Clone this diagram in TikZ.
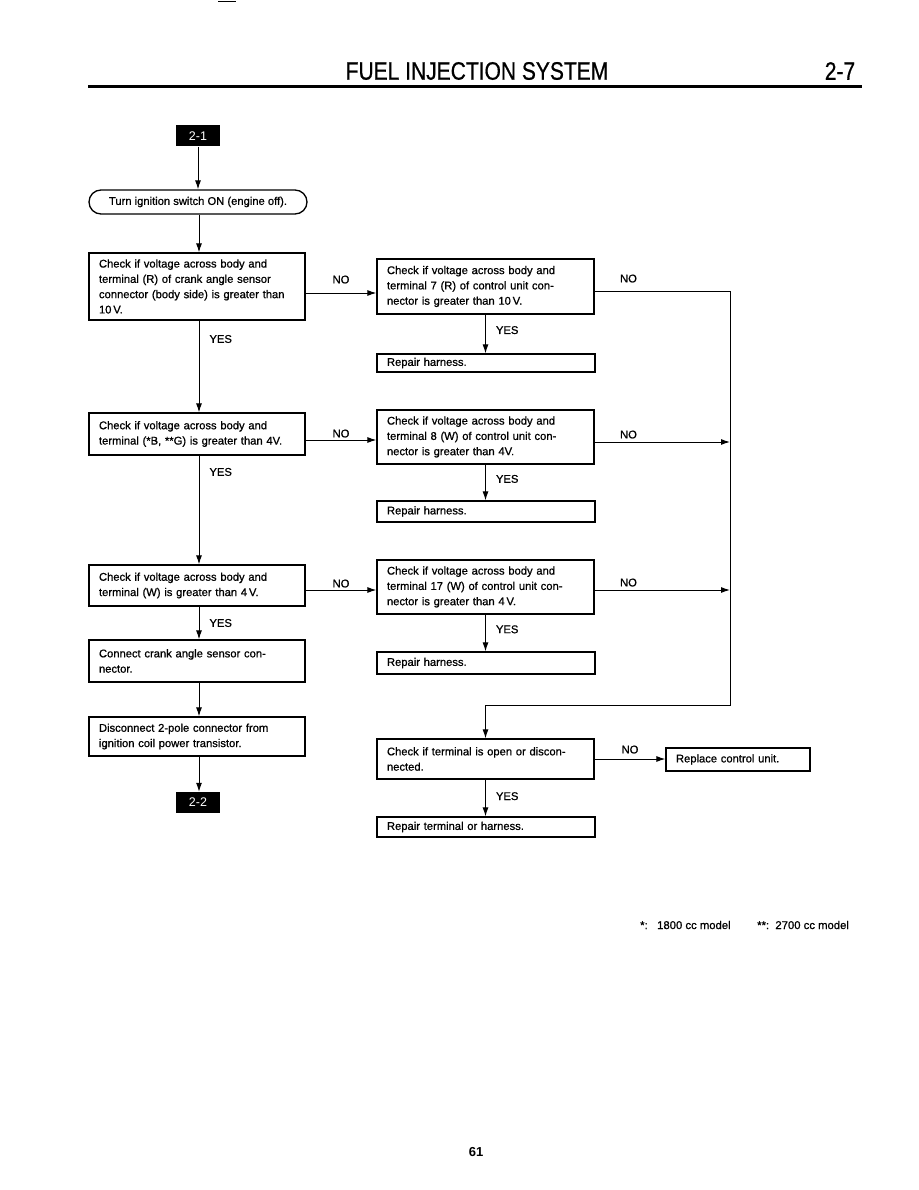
\documentclass[tikz,border=0pt]{standalone}
\usepackage{graphicx}
\usepackage{fontspec}
\setmainfont{Liberation Sans}
\newfontfamily\semibf[FakeBold=0.8]{Liberation Sans}
\usetikzlibrary{arrows.meta}
\newcommand\boxfont{\semibf\fontsize{11.2}{15.3}\selectfont}
\begin{document}
\begin{tikzpicture}[x=1pt,y=-1pt,
 box/.style={draw, line width=1.3pt, inner xsep=10pt, inner ysep=0pt, align=left, font=\boxfont},
 arr/.style={line width=1pt, -{Latex[length=9pt,width=6pt]}},
 ln/.style={line width=1pt},
 lbl/.style={font=\boxfont, inner sep=0pt},
 tag/.style={fill=black, text=white, minimum width=44pt, minimum height=21pt, inner sep=0pt, font=\fontsize{12.5}{14}\selectfont}]
\useasboundingbox[fill=white] (0,0) rectangle (918,1190);

% header
\draw[line width=1pt] (218,2) -- (236,2);
\node[inner sep=0pt, font=\semibf\fontsize{21}{24}\selectfont] (title) at (477,71) {\scalebox{1}[1.2]{FUEL INJECTION SYSTEM}};
\node[inner sep=0pt, font=\semibf\fontsize{21}{24}\selectfont] (pg) at (840,71) {\scalebox{1}[1.2]{2-7}};
\draw[line width=3pt] (88,87) -- (862,87);

% left column
\node[tag] (t21) at (198,136) {2-1};
\node[draw, line width=1.3pt, rounded corners=12pt, minimum width=218pt, minimum height=24pt, inner sep=0pt, font=\boxfont] (turn) at (198,202) {Turn ignition switch ON (engine off).};
\node[box, text width=196pt, minimum height=67pt] (b1) at (197,286.5) {\mbox{Check if voltage across body and}\\\mbox{terminal (R) of crank angle sensor}\\\mbox{connector (body side) is greater than}\\\mbox{10\,V.}};
\node[box, text width=196pt, minimum height=42pt] (b2) at (197,434) {\mbox{Check if voltage across body and}\\\mbox{terminal (*B, **G) is greater than 4V.}};
\node[box, text width=196pt, minimum height=41pt] (b3) at (197,585.5) {\mbox{Check if voltage across body and}\\\mbox{terminal (W) is greater than 4\,V.}};
\node[box, text width=196pt, minimum height=42pt] (b4) at (197,661) {\mbox{Connect crank angle sensor con-}\\\mbox{nector.}};
\node[box, text width=196pt, minimum height=39pt] (b5) at (197,736.5) {\mbox{Disconnect 2-pole connector from}\\\mbox{ignition coil power transistor.}};
\node[tag] (t22) at (198,802.5) {2-2};

% middle column
\node[box, text width=197pt, minimum height=55pt] (bA) at (485.5,286.5) {\mbox{Check if voltage across body and}\\\mbox{terminal 7 (R) of control unit con-}\\\mbox{nector is greater than 10\,V.}};
\node[box, text width=198pt, minimum height=18pt] (rA) at (486,363) {Repair harness.};
\node[box, text width=197pt, minimum height=54pt] (bB) at (485.5,437) {\mbox{Check if voltage across body and}\\\mbox{terminal 8 (W) of control unit con-}\\\mbox{nector is greater than 4V.}};
\node[box, text width=198pt, minimum height=21pt] (rB) at (486,511.5) {Repair harness.};
\node[box, text width=197pt, minimum height=54pt] (bC) at (485.5,587) {\mbox{Check if voltage across body and}\\\mbox{terminal 17 (W) of control unit con-}\\\mbox{nector is greater than 4\,V.}};
\node[box, text width=198pt, minimum height=22pt] (rC) at (486,663) {Repair harness.};
\node[box, text width=197pt, minimum height=40pt] (bD) at (485.5,759) {\mbox{Check if terminal is open or discon-}\\\mbox{nected.}};
\node[box, text width=198pt, minimum height=20pt] (rD) at (486,827) {Repair terminal or harness.};
\node[box, text width=124pt, minimum height=23pt] (rep) at (738,759.5) {Replace control unit.};

% connectors left column
\draw[arr] (t21) -- (t21 |- turn.north);
\draw[arr] (turn.south -| 199,0) -- (b1.north -| 199,0);
\draw[arr] (b1.south -| 199,0) -- node[lbl, pos=0.2, right=10pt] {YES} (b2.north -| 199,0);
\draw[arr] (b2.south -| 199,0) -- node[lbl, pos=0.15, right=10pt] {YES} (b3.north -| 199,0);
\draw[arr] (b3.south -| 199,0) -- node[lbl, pos=0.5, right=10pt] {YES} (b4.north -| 199,0);
\draw[arr] (b4.south -| 199,0) -- (b5.north -| 199,0);
\draw[arr] (b5.south -| 199,0) -- (t22.north -| 199,0);

% NO arrows to middle column
\draw[arr] (b1.east |- 0,293) -- node[lbl, above=9pt] {NO} (bA.west |- 0,293);
\draw[arr] (b2.east |- 0,440) -- node[lbl, above=2pt] {NO} (bB.west |- 0,440);
\draw[arr] (b3.east |- 0,590) -- node[lbl, above=2pt] {NO} (bC.west |- 0,590);

% YES arrows in middle column
\draw[arr] (bA.south) -- node[lbl, right=10pt, pos=0.4] {YES} (rA.north -| bA.south);
\draw[arr] (bB.south) -- node[lbl, right=10pt, pos=0.4] {YES} (rB.north -| bB.south);
\draw[arr] (bC.south) -- node[lbl, right=10pt, pos=0.4] {YES} (rC.north -| bC.south);
\draw[arr] (bD.south) -- node[lbl, right=10pt, pos=0.45] {YES} (rD.north -| bD.south);

% trunk on the right
\coordinate (tTop) at (730,291);
\coordinate (tBot) at (730,705);
\coordinate (tTurn) at (485.5,705);
\draw[ln] (bA.east |- tTop) -- node[lbl, above=8pt, pos=0.25] {NO} (tTop) -- (tBot) -- (tTurn);
\draw[arr] (tTurn) -- (bD.north);
\draw[arr] (bB.east |- 0,442) -- node[lbl, above=3pt, pos=0.25] {NO} (730,442);
\draw[arr] (bC.east |- 0,590) -- node[lbl, above=3pt, pos=0.25] {NO} (730,590);
\draw[arr] (bD.east |- 0,759) -- node[lbl, above=5pt, pos=0.5] {NO} (rep.west |- 0,759);

% footnote and page number
\node[lbl, anchor=west, font=\semibf\fontsize{11.3}{13}\selectfont] (fn1) at (640,925) {*:\ \ \ 1800 cc model};
\node[lbl, anchor=west, font=\semibf\fontsize{11.3}{13}\selectfont] (fn2) at (757,925) {**:\ \ 2700 cc model};
\node[inner sep=0pt, font=\fontsize{13}{15}\bfseries] (pnum) at (476,1152) {61};
\end{tikzpicture}
\end{document}
